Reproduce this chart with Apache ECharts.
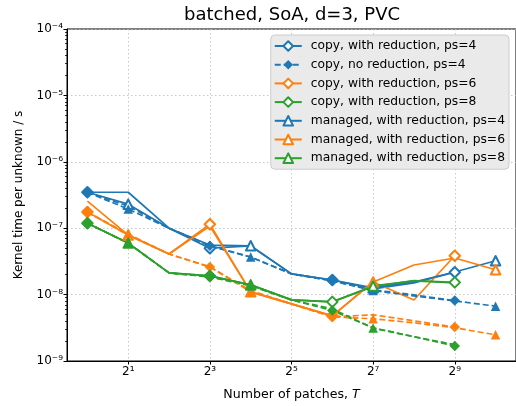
<!DOCTYPE html>
<html><head><meta charset="utf-8">
<script src="https://cdn.jsdelivr.net/npm/echarts@6/dist/echarts.min.js"></script>
<style>html,body{margin:0;padding:0;background:#fff}#c{width:516px;height:406px}</style>
</head><body><div id="c"></div>
<script>
// ---- data ----
const patches = [1, 2, 4, 8, 16, 32, 64, 128, 256, 512, 1024];
const xTickValues = [2, 8, 32, 128, 512];
const yTickValues = [1e-9, 1e-8, 1e-7, 1e-6, 1e-5, 1e-4];
const titleText = 'batched, SoA, d=3, PVC';

const copyRedPs4     = [3.48e-7, 3.48e-7, 1.0e-7, 5.0e-8, 5.4e-8, 2.05e-8, 1.66e-8, 1.22e-8, 1.5e-8, 2.17e-8];
const copyNoRedPs4   = [3.48e-7, 2.15e-7, 1.0e-7, 5.44e-8, 3.68e-8, 2.05e-8, 1.61e-8, 1.18e-8, 9.9e-9, 8.12e-9];
const copyRedPs6     = [1.75e-7, 7.88e-8, 4.08e-8, 1.15e-7, 1.10e-8, 7.25e-9, 4.79e-9, 1.55e-8, 8.3e-9, 3.85e-8];
const copyNoRedPs6   = [1.75e-7, 7.88e-8, 4.08e-8, 2.61e-8, 1.15e-8, 7.25e-9, 4.63e-9, 4.96e-9, 4.03e-9, 3.24e-9];
const copyRedPs8     = [1.19e-7, 5.97e-8, 2.12e-8, 1.91e-8, 1.40e-8, 8.32e-9, 7.77e-9, 1.31e-8, 1.63e-8, 1.53e-8];
const copyNoRedPs8   = [1.19e-7, 5.97e-8, 2.12e-8, 1.85e-8, 1.35e-8, 8.32e-9, 5.75e-9, 3.16e-9, 2.32e-9, 1.68e-9];
const managedRedPs4   = [3.48e-7, 2.3e-7, 1.0e-7, 5.57e-8, 5.44e-8, 2.05e-8, 1.66e-8, 1.26e-8, 1.55e-8, 2.19e-8, 3.24e-8];
const managedNoRedPs4 = [3.48e-7, 1.94e-7, 1.0e-7, 5.39e-8, 3.68e-8, 2.05e-8, 1.61e-8, 1.15e-8, 9.55e-9, 8.03e-9, 6.70e-9];
const managedRedPs6   = [2.55e-7, 7.88e-8, 4.08e-8, 1.08e-7, 1.10e-8, 7.25e-9, 4.79e-9, 1.55e-8, 2.79e-8, 3.56e-8, 2.37e-8];
const managedNoRedPs6 = [1.75e-7, 8.15e-8, 4.08e-8, 2.61e-8, 1.10e-8, 7.25e-9, 4.63e-9, 4.32e-9, 3.76e-9, 3.16e-9, 2.48e-9];
const managedRedPs8   = [1.19e-7, 5.97e-8, 2.12e-8, 1.91e-8, 1.40e-8, 8.32e-9, 7.77e-9, 1.35e-8, 1.61e-8, 1.50e-8];
const managedNoRedPs8 = [1.19e-7, 5.97e-8, 2.12e-8, 1.85e-8, 1.40e-8, 8.32e-9, 6.10e-9, 3.13e-9, 2.32e-9, 1.76e-9];

const legendNames = [
  'copy, with reduction, ps=4', 'copy, no reduction, ps=4', 'copy, with reduction, ps=6',
  'copy, with reduction, ps=8', 'managed, with reduction, ps=4', 'managed, with reduction, ps=6',
  'managed, with reduction, ps=8'
];

const minorTicks = [];
for (let d = -9; d < -4; d++) for (let m = 2; m <= 9; m++) minorTicks.push(m * Math.pow(10, d));

const BLUE = '#1f77b4', ORANGE = '#ff7f0e', GREEN = '#2ca02c';
const defs = [
  ['copy, with reduction, ps=4', copyRedPs4, BLUE, false, 'emptyDiamond', 0],
  ['copy, no reduction, ps=4', copyNoRedPs4, BLUE, true, 'diamond', 0],
  ['copy, with reduction, ps=6', copyRedPs6, ORANGE, false, 'emptyDiamond', 0],
  ['copy, no reduction, ps=6', copyNoRedPs6, ORANGE, true, 'diamond', 0],
  ['copy, with reduction, ps=8', copyRedPs8, GREEN, false, 'emptyDiamond', 0],
  ['copy, no reduction, ps=8', copyNoRedPs8, GREEN, true, 'diamond', 0],
  ['managed, with reduction, ps=4', managedRedPs4, BLUE, false, 'emptyTriangle', 1],
  ['managed, no reduction, ps=4', managedNoRedPs4, BLUE, true, 'triangle', 1],
  ['managed, with reduction, ps=6', managedRedPs6, ORANGE, false, 'emptyTriangle', 1],
  ['managed, no reduction, ps=6', managedNoRedPs6, ORANGE, true, 'triangle', 1],
  ['managed, with reduction, ps=8', managedRedPs8, GREEN, false, 'emptyTriangle', 1],
  ['managed, no reduction, ps=8', managedNoRedPs8, GREEN, true, 'triangle', 1]
];

const SUP = {'0':'⁰','1':'¹','2':'²','3':'³','4':'⁴','5':'⁵','6':'⁶','7':'⁷','8':'⁸','9':'⁹','-':'⁻'};
const sup = s => String(s).split('').map(c => SUP[c] || c).join('');
const FONT = 'DejaVu Sans';

const series = defs.map(([name, vals, color, dashed, sym, off]) => ({
  name, type: 'line', xAxisIndex: 0, yAxisIndex: 0,
  symbol: sym,
  symbolSize: sym.indexOf('iamond') >= 0 ? 10.5 : 9.5,
  showAllSymbol: true,
  lineStyle: { color, width: 1.7, type: dashed ? [6, 3] : 'solid' },
  itemStyle: { color, borderWidth: 1.3, borderJoin: 'round' },
  data: vals.map((v, i) => ({ value: [patches[i], v], symbol: (i % 3 === off) ? sym : 'none' })),
  animation: false
}));

const chart = echarts.init(document.getElementById('c'));
chart.setOption({
  animation: false,
  graphic: [{ type: 'text', x: 292, y: 15.5, style: { text: titleText, font: '18px "DejaVu Sans"', fill: '#000', textAlign: 'center', textVerticalAlign: 'middle' } }],
  legend: {
    data: legendNames, orient: 'vertical', right: 7, top: 35,
    backgroundColor: '#eaeaea', borderColor: '#cccccc', borderWidth: 1, borderRadius: 4,
    padding: [4, 4, 4, 3], itemWidth: 27, itemHeight: 12, itemGap: 4.7,
    itemStyle: { borderJoin: 'round' },
    textStyle: { fontFamily: FONT, fontSize: 12.3, color: '#000', lineHeight: 14, padding: [0, 0, 0, 4] }
  },
  grid: { left: 67, right: -2, top: 29, bottom: 44, show: true, borderColor: '#000', borderWidth: 1, backgroundColor: 'transparent' },
  xAxis: {
    type: 'log', logBase: 2, min: Math.pow(2, -0.5), max: Math.pow(2, 10.5),
    name: 'Number of patches, {i|T}', nameLocation: 'middle', nameGap: 27,
    nameTextStyle: { fontFamily: FONT, fontSize: 12.6, color: '#000', rich: { i: { fontFamily: FONT, fontSize: 12.6, fontStyle: 'italic' } } },
    axisLine: { show: true, lineStyle: { color: '#000', width: 1 } },
    axisTick: { show: true, length: 3.5, customValues: xTickValues, lineStyle: { color: '#000' } },
    axisLabel: { customValues: xTickValues, fontFamily: FONT, fontSize: 12, color: '#000', margin: 5,
      formatter: v => '2' + sup(Math.round(Math.log2(v))) },
    splitLine: { show: true, lineStyle: { color: '#bbbbbb', width: 0.8, type: [1.5, 2.5] } },
    minorTick: { show: false }
  },
  yAxis: [{
    type: 'log', min: 1e-9, max: 1e-4,
    name: 'Kernel time per unknown / s', nameLocation: 'middle', nameGap: 42, nameRotate: 90,
    nameTextStyle: { fontFamily: FONT, fontSize: 12, color: '#000' },
    axisLine: { show: true, lineStyle: { color: '#000', width: 1 } },
    axisTick: { show: true, length: 3.5, customValues: yTickValues, lineStyle: { color: '#000' } },
    axisLabel: { customValues: yTickValues, fontFamily: FONT, fontSize: 12, color: '#000', margin: 4,
      formatter: v => '10' + sup(Math.round(Math.log10(v))) },
    splitLine: { show: true, lineStyle: { color: '#bbbbbb', width: 0.8, type: [1.5, 2.5] } }
  }, {
    type: 'log', min: 1e-9, max: 1e-4, position: 'left', offset: 0,
    axisLine: { show: false }, axisLabel: { show: false }, splitLine: { show: false },
    axisTick: { show: true, length: 2, customValues: minorTicks, lineStyle: { color: '#000', width: 0.8 } }
  }],
  series
});
</script></body></html>
